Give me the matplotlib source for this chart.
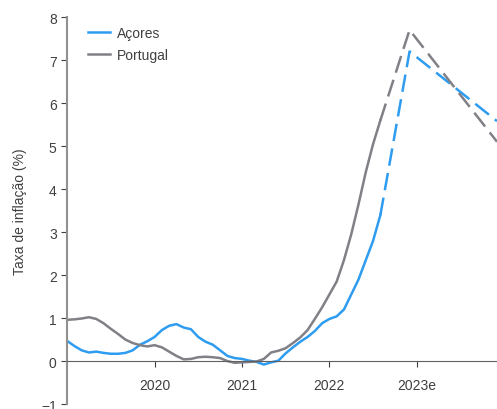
import matplotlib
matplotlib.use("Agg")
import matplotlib.pyplot as plt

plt.rcParams['font.family'] = ['Liberation Sans', 'DejaVu Sans']

# monthly values, Jan 2019 (month 0) to Aug 2022 (month 43)
acores = [0.47, 0.35, 0.25, 0.20, 0.22, 0.19, 0.17, 0.17, 0.19, 0.25, 0.38, 0.46,
          0.56, 0.72, 0.82, 0.86, 0.78, 0.74, 0.56, 0.45, 0.38, 0.25, 0.12, 0.07,
          0.05, 0.01, -0.02, -0.08, -0.03, 0.01, 0.18, 0.32, 0.45, 0.56, 0.70, 0.88,
          0.98, 1.04, 1.20, 1.55, 1.90, 2.35, 2.80, 3.40]
portugal = [0.96, 0.97, 0.99, 1.02, 0.98, 0.88, 0.75, 0.63, 0.50, 0.42, 0.37, 0.34,
            0.37, 0.32, 0.22, 0.12, 0.04, 0.05, 0.09, 0.10, 0.09, 0.07, 0.00, -0.04,
            -0.03, -0.02, -0.01, 0.05, 0.20, 0.24, 0.30, 0.42, 0.55, 0.72, 0.98, 1.25,
            1.55, 1.85, 2.35, 2.95, 3.65, 4.40, 5.05, 5.60]
months = list(range(len(acores)))

# estimates: last observed month, Dec 2022, Dec 2023
est_months = [43, 47, 59]
acores_est = [3.40, 7.20, 5.58]
portugal_est = [5.60, 7.70, 5.10]

tick_pos = [12, 24, 36, 48]
tick_labels = ['2020', '2021', '2022', '2023e']

BLUE = '#2E9CF0'
GREY = '#808087'
TEXT = '#404040'
FONT_SIZE = 10
LW = 1.8

fig = plt.figure(figsize=(4.97, 4.10), dpi=100)
ax = fig.add_axes([0.135, 0.012, 0.865, 0.944])

ax.plot(months, acores, color=BLUE, lw=LW, label='Açores')
ax.plot(months, portugal, color=GREY, lw=LW, label='Portugal')
ax.plot(est_months, acores_est, color=BLUE, lw=LW, dashes=(7, 3))
ax.plot(est_months, portugal_est, color=GREY, lw=LW, dashes=(7, 3))

ax.set_xlim(0, 59)
ax.set_ylim(-1, 8)
ax.set_yticks(range(-1, 9))
ax.set_xticks(tick_pos)
ax.set_xticklabels(tick_labels)

for s in ['top', 'right']:
    ax.spines[s].set_visible(False)
ax.spines['bottom'].set_position(('data', 0))
ax.spines['bottom'].set_color('#606060')
ax.spines['left'].set_color('#909090')
ax.spines['left'].set_linewidth(1.5)

ax.tick_params(axis='both', labelsize=FONT_SIZE, colors=TEXT, length=4)
ax.tick_params(axis='x', pad=8)

ax.set_ylabel('Taxa de inflação (%)', fontsize=FONT_SIZE, color=TEXT, labelpad=10)

ax.legend(loc='upper left', bbox_to_anchor=(0.02, 1.01), frameon=False,
          fontsize=FONT_SIZE, handlelength=1.6, handletextpad=0.5,
          labelspacing=0.6, labelcolor=TEXT)

fig.savefig('out.png', dpi=100)
